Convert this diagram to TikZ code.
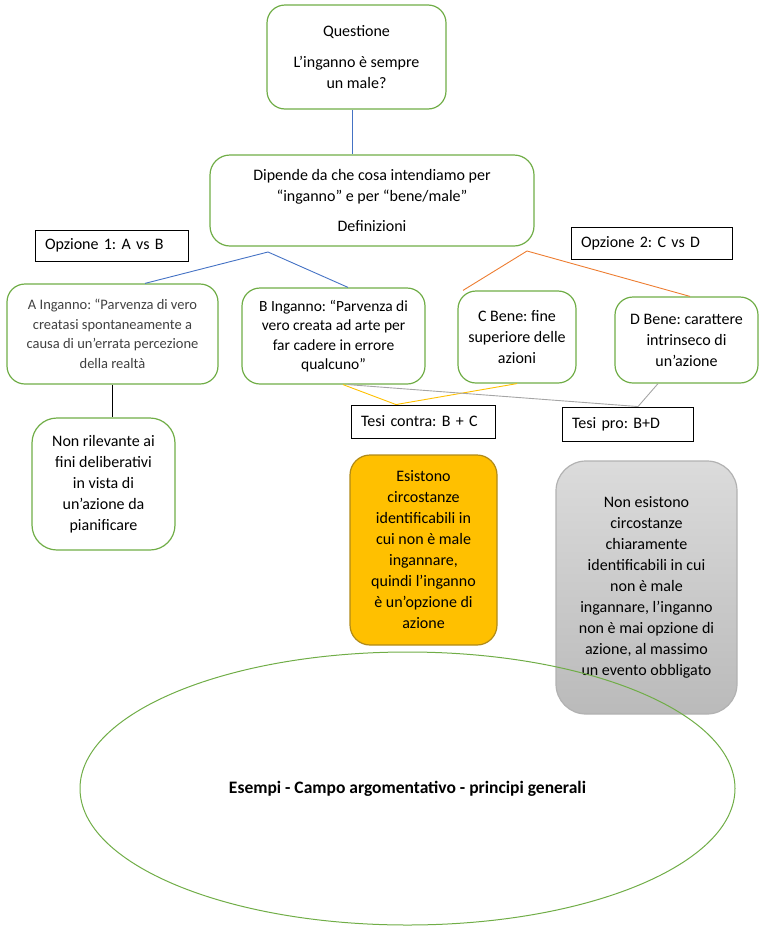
\documentclass[tikz,border=0pt]{standalone}
\usepackage{fontspec}
\setmainfont{Carlito}
\frenchspacing
\usetikzlibrary{shapes.geometric}
\definecolor{boxgreen}{HTML}{70AD47}
\definecolor{lineblue}{HTML}{4472C4}
\definecolor{lineorange}{HTML}{ED7D31}
\definecolor{lineyellow}{HTML}{FFC000}
\definecolor{linegrey}{HTML}{A5A5A5}
\definecolor{goldborder}{HTML}{B08A18}
\begin{document}
\begin{tikzpicture}[x=1pt,y=-1pt,
    box/.style={draw=boxgreen, line width=1.2pt, rounded corners=18pt, align=center,
      inner sep=0pt, font=\fontsize{16}{21}\selectfont},
    optbox/.style={draw=black, line width=0.9pt, align=left, inner xsep=10pt, inner ysep=0pt,
      font=\fontsize{16}{21}\selectfont},
    conn/.style={line width=0.9pt}]
\useasboundingbox (0,0) rectangle (759,932);
    % Questione
    \node[box, minimum width=179pt, minimum height=104pt] (questione) at (356.5,57)
      {Questione\\[10pt]L’inganno è sempre\\un male?};
    % Definizioni
    \node[box, rounded corners=20pt, minimum width=324pt, minimum height=91pt] (dipende) at (372,200.5)
      {Dipende da che cosa intendiamo per\\“inganno” e per “bene/male”\\[9pt]Definizioni};
    % Opzioni
    \node[optbox, text width=133pt, minimum height=31pt] (opz1) at (111.5,245.5) {Opzione 1: A vs B};
    \node[optbox, text width=141pt, minimum height=32pt] (opz2) at (651.5,243) {Opzione 2: C vs D};
    % Definizioni A, B, C, D
    \node[box, text=black!75, font=\fontsize{14.5}{19.5}\selectfont, minimum width=211pt, minimum height=100pt] (defA) at (112.5,334)
      {A Inganno: “Parvenza di vero\\creatasi spontaneamente a\\causa di un'errata percezione\\della realtà};
    \node[box, font=\fontsize{15.5}{19.5}\selectfont, minimum width=183pt, minimum height=96pt] (defB) at (333.5,336)
      {B Inganno: “Parvenza di\\vero creata ad arte per\\far cadere in errore\\qualcuno”};
    \node[box, minimum width=118pt, minimum height=92pt] (defC) at (517,337)
      {C Bene: fine\\superiore delle\\azioni};
    \node[box, minimum width=143pt, minimum height=86pt] (defD) at (686.5,340)
      {D Bene: carattere\\intrinseco di\\un’azione};
    % Conseguenza di A
    \node[box, rounded corners=25pt, minimum width=143pt, minimum height=132pt] (nonril) at (103.5,484)
      {Non rilevante ai\\fini deliberativi\\in vista di\\un’azione da\\pianificare};
    % Tesi
    \node[optbox, text width=124pt, minimum height=33pt] (contra) at (423,421.5) {Tesi contra: B + C};
    \node[optbox, text width=111pt, minimum height=34pt] (pro) at (627.5,424) {Tesi pro: B+D};
    \node[box, draw=goldborder, fill=lineyellow, rounded corners=20pt, minimum width=147pt, minimum height=190pt] (esistono) at (423.5,550)
      {Esistono\\circostanze\\identificabili in\\cui non è male\\ingannare,\\quindi l’inganno\\è un’opzione di\\azione};
    \node[box, draw=black!30, top color=black!14, bottom color=black!27, rounded corners=30pt, minimum width=181pt, minimum height=253pt] (nonesist) at (646.5,587.5)
      {Non esistono\\circostanze\\chiaramente\\identificabili in cui\\non è male\\ingannare, l’inganno\\non è mai opzione di\\azione, al massimo\\un evento obbligato};
    % Esempi
    \node[ellipse, draw=boxgreen, line width=1pt, inner sep=0pt, minimum width=655pt, minimum height=273pt,
      font=\fontsize{17.5}{21}\selectfont\bfseries] (esempi) at (407.5,788.5)
      {Esempi - Campo argomentativo - principi generali};
    % Collegamenti
    \coordinate (split1) at (268,252);
    \coordinate (split2) at (527,251);
    \draw[conn, lineblue] ([xshift=-4.5pt]questione.south) -- ([xshift=-4.5pt]questione.south |- dipende.north);
    \draw[conn, lineblue] ([xshift=32.5pt]defA.north) -- (split1) -- ([xshift=14.5pt]defB.north);
    \draw[conn, lineorange] ([xshift=-54pt]defC.north) -- (split2) -- ([xshift=3.5pt]defD.north);
    \draw[conn, black] (defA.south) -- (defA.south |- nonril.north);
    \draw[conn, lineyellow] ([xshift=9.5pt]defB.south) -- ([xshift=-27pt]contra.north) -- (defC.south);
    \draw[conn, linegrey] ([xshift=14.5pt]defB.south) -- ([xshift=10.5pt]pro.north) -- ([xshift=-28.5pt]defD.south);
\end{tikzpicture}
\end{document}
